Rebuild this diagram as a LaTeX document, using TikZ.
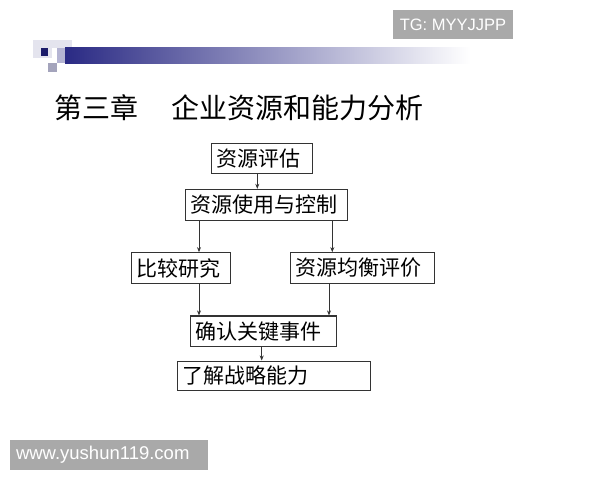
\documentclass[tikz,border=0pt]{standalone}
\usepackage{fontspec}
\setmainfont{Liberation Sans}
\newfontfamily\cjk{Noto Sans CJK SC}
\usetikzlibrary{arrows.meta}
\definecolor{wmgray}{HTML}{A9A9A9}
\definecolor{navyA}{HTML}{1C1C6A}
\definecolor{barL}{HTML}{2A2A84}
\definecolor{sqLight}{HTML}{E4E4EE}
\definecolor{sqMid}{HTML}{B4B4D2}
\definecolor{sqGray}{HTML}{A4A4BC}
\definecolor{boxline}{HTML}{333333}
\tikzset{
  flowbox/.style={draw=boxline, line width=1.1pt, inner xsep=5pt, inner ysep=0pt,
    align=left, font=\cjk\fontsize{21}{23}\selectfont, anchor=center},
  arr/.style={draw=boxline, line width=0.8pt, -{Stealth[length=5pt,width=4pt]}},
  wmbox/.style={fill=wmgray, inner sep=0pt, text=white, font=\fontsize{16.5}{18}\selectfont}
}
\begin{document}
\begin{tikzpicture}[x=1pt,y=-1pt]
\useasboundingbox (0,0) rectangle (600,480);
\fill[white] (0,0) rectangle (600,480);
% decoration
\fill[sqLight] (33,40) rectangle (52,58);
\fill[sqLight] (52,40) rectangle (72,48);
\shade[left color=barL, right color=white, shading angle=90] (65,47.5) rectangle (470,63);
\fill[sqMid] (56.7,48) rectangle (65,63);
\fill[navyA] (40.7,48.3) rectangle (48.3,56);
\fill[sqGray] (48,63) rectangle (57,72);
% watermarks
\node[wmbox, minimum width=120pt, minimum height=29pt] (tg) at (453,24.5) {TG: MYYJJPP};
\node[wmbox, minimum width=198pt, minimum height=30pt, text width=190pt, align=left, font=\fontsize{18.5}{20}\selectfont] (www) at (109,455) {\hspace*{2pt}www.yushun119.com};
% title
\node[anchor=west, inner sep=0pt, font=\cjk\fontsize{28}{30}\selectfont] (t1) at (54,108) {第三章};
\node[anchor=west, inner sep=0pt, font=\cjk\fontsize{28}{30}\selectfont] (t2) at (171,108) {企业资源和能力分析};
% boxes
\node[flowbox, minimum width=101pt, text width=91pt, minimum height=30pt] (b1) at (262.2,158.3) {资源评估};
\node[flowbox, minimum width=161.6pt, text width=151.6pt, minimum height=30.7pt] (b2) at (266.5,204.7) {资源使用与控制};
\node[flowbox, minimum width=98.3pt, text width=88.3pt, minimum height=30.6pt] (b3) at (180.9,268) {比较研究};
\node[flowbox, minimum width=143.3pt, text width=133.3pt, minimum height=30.6pt] (b4) at (362.4,268) {资源均衡评价};
\node[flowbox, minimum width=146.7pt, text width=136.7pt, minimum height=30.7pt] (b5) at (263.4,331.3) {确认关键事件};
\node[flowbox, minimum width=193.4pt, text width=183.4pt, minimum height=29.7pt] (b6) at (274,375.9) {了解战略能力};
% arrow columns
\coordinate (x1) at (257.3,0);
\coordinate (x2) at (199,0);
\coordinate (x3) at (332.3,0);
\coordinate (x4) at (329,0);
\coordinate (x5) at (261.7,0);
\draw[arr] (b1.south -| x1) -- (b2.north -| x1);
\draw[arr] (b2.south -| x2) -- (b3.north -| x2);
\draw[arr] (b2.south -| x3) -- (b4.north -| x3);
\draw[arr] (b3.south -| x2) -- (b5.north -| x2);
\draw[arr] (b4.south -| x4) -- (b5.north -| x4);
\draw[arr] (b5.south -| x5) -- (b6.north -| x5);
\end{tikzpicture}
\end{document}
